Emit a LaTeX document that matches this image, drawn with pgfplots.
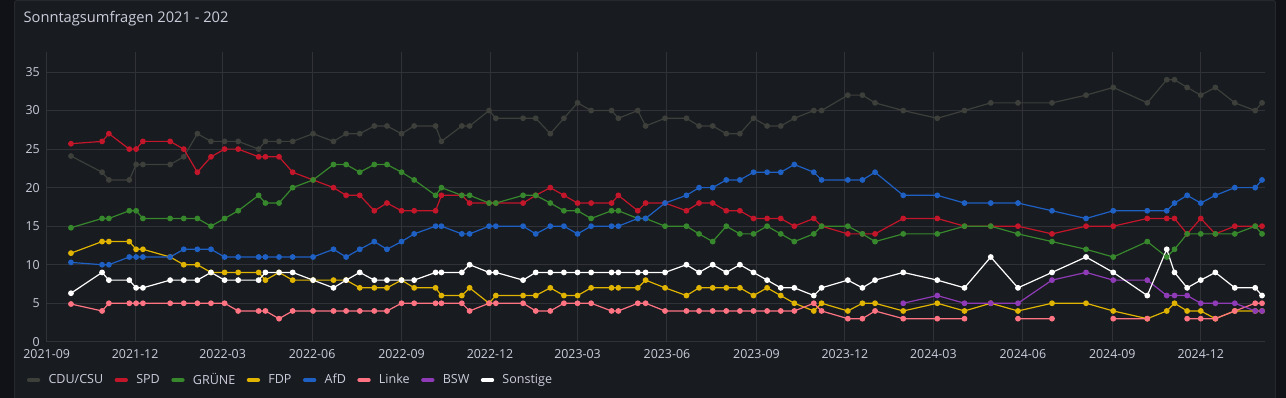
\documentclass[border=0pt]{standalone}
\usepackage{pgfplots}
\pgfplotsset{compat=1.18}
\usepackage{pgfplotstable}
\usepackage{fontspec}
\setmainfont{Open Sans}
\definecolor{bgout}{HTML}{111217}
\definecolor{bgpanel}{HTML}{181B1F}
\definecolor{panelborder}{HTML}{26282D}
\definecolor{txt}{HTML}{CCCCDC}
\definecolor{gridc}{HTML}{303237}
\definecolor{ccdu}{HTML}{3C3F3A}
\definecolor{cspd}{HTML}{C4162A}
\definecolor{cgruene}{HTML}{37872D}
\definecolor{cfdp}{HTML}{E0B400}
\definecolor{cafd}{HTML}{1F60C4}
\definecolor{clinke}{HTML}{FF7383}
\definecolor{cbsw}{HTML}{8F3BB8}
\definecolor{csonst}{HTML}{FFFFFF}

\pgfplotstableread{
d CDU SPD GRUENE FDP AfD Linke BSW Sonst
25 24.1 25.7 14.8 11.5 10.3 4.9 nan 6.3
57 22 26 16 13 10 4 nan 9
64 21 27 16 13 10 5 nan 8
85 21 25 17 13 11 5 nan 8
92 23 25 17 12 11 5 nan 7
99 23 26 16 12 11 5 nan 7
127 23 26 16 11 11 5 nan 8
141 24 25 16 10 12 5 nan 8
155 27 22 16 10 12 5 nan 8
169 26 24 15 9 12 5 nan 9
183 26 25 16 9 11 5 nan 8
197 26 25 17 9 11 4 nan 8
218 25 24 19 9 11 4 nan 8
225 26 24 18 8 11 4 nan 9
239 26 24 18 9 11 3 nan 9
253 26 22 20 8 11 4 nan 9
274 27 21 21 8 11 4 nan 8
295 26 20 23 8 12 4 nan 7
308 27 19 23 8 11 4 nan 8
322 27 19 22 7 12 4 nan 9
337 28 17 23 7 13 4 nan 8
350 28 18 23 7 12 4 nan 8
365 27 17 22 8 13 5 nan 8
378 28 17 21 7 14 5 nan 8
400 28 17 19 7 15 5 nan 9
406 26 19 20 6 15 5 nan 9
427 28 19 19 6 14 5 nan 9
435 28 18 19 7 14 4 nan 10
455 30 18 18 5 15 5 nan 9
462 29 18 18 6 15 5 nan 9
490 29 18 19 6 15 5 nan 8
503 29 19 19 6 14 4 nan 9
518 27 20 18 7 15 4 nan 9
532 29 19 17 6 15 5 nan 9
546 31 18 17 6 14 5 nan 9
560 30 18 16 7 15 5 nan 9
581 30 18 17 7 15 4 nan 9
588 29 19 17 7 15 4 nan 9
608 30 17 16 7 16 5 nan 9
616 28 18 16 8 16 5 nan 9
636 29 18 15 7 18 4 nan 9
658 29 17 15 6 19 4 nan 10
671 28 18 14 7 20 4 nan 9
685 28 18 13 7 20 4 nan 10
699 27 17 15 7 21 4 nan 9
713 27 17 14 7 21 4 nan 10
727 29 16 14 6 22 4 nan 9
741 28 16 15 7 22 4 nan 8
755 28 16 14 6 22 4 nan 7
769 29 15 13 5 23 4 nan 7
789 30 16 14 4 22 5 nan 6
797 30 15 15 5 21 4 nan 7
824 32 14 15 4 21 3 nan 8
839 32 14 14 5 21 3 nan 7
852 31 14 13 5 22 4 nan 8
881 30 16 14 4 19 3 5 9
916 29 16 14 5 19 3 6 8
944 30 15 15 4 18 3 5 7
971 31 15 15 5 18 nan 5 11
999 31 15 14 4 18 3 5 7
1034 31 14 13 5 17 3 8 9
1069 32 15 12 5 16 nan 9 11
1097 33 15 11 4 17 3 8 9
1132 31 16 13 3 17 3 8 6
1152 34 16 11 4 17 nan 6 12
1160 34 16 12 5 18 nan 6 9
1173 33 14 14 4 19 3 6 7
1187 32 16 14 4 18 3 5 8
1202 33 14 14 3 19 3 5 9
1222 31 15 14 4 20 4 5 7
1243 30 15 15 4 20 5 4 7
1250 31 15 14 4 21 5 4 6
}\polls

\begin{document}
\begin{tikzpicture}[x=1pt,y=1pt]
\useasboundingbox (0,0) rectangle (964.5,298.5);
\fill[bgout] (0,0) rectangle (964.5,298.5);
\filldraw[fill=bgpanel, draw=panelborder, line width=0.75pt, rounded corners=1.5pt] (10.9,-5) rectangle (956.6,298.0);
\node[anchor=west, text=txt, font=\fontsize{11}{12}\selectfont, inner sep=0pt] at (17.5,284.6) {Sonntagsumfragen 2021 - 202};
\begin{axis}[
  at={(35.0pt,42.15pt)}, anchor=south west,
  scale only axis, width=913.7pt, height=217.35pt,
  xmin=0, xmax=1253, ymin=0, ymax=37.6,
  xtick={0,91,181,273,365,456,546,638,730,821,912,1004,1096,1187},
  xticklabels={2021-09,2021-12,2022-03,2022-06,2022-09,2022-12,2023-03,2023-06,2023-09,2023-12,2024-03,2024-06,2024-09,2024-12},
  ytick={0,5,...,35},
  grid=major,
  major grid style={draw=gridc, line width=0.75pt},
  axis line style={draw=none},
  major tick length=0pt,
  /pgf/number format/assume math mode=true,
  tick label style={text=txt, font=\fontsize{9.3}{10}\selectfont, inner sep=0pt},
  yticklabel style={xshift=-5pt},
  xticklabel style={yshift=-5.5pt},
  unbounded coords=jump,
  clip=false,
  every axis plot/.append style={line width=0.9pt, mark=*, mark size=1.7pt, mark options={solid}},
  legend columns=8,
  legend style={at={(axis description cs:-0.0162,-0.132)}, anchor=west, draw=none, fill=none,
    text=txt, font=\fontsize{9.4}{10}\selectfont, inner sep=0pt, outer sep=0pt,
    nodes={inner sep=0pt},
    /tikz/every odd column/.append style={column sep=6.2pt},
    /tikz/every even column/.append style={column sep=8.6pt}},
  legend image code/.code={\draw[#1, line width=3pt, line cap=round, mark=none] (0pt,0pt) -- (7pt,0pt);},
]
\addplot[color=ccdu] table[x=d, y=CDU] {\polls};
\addlegendentry{CDU/CSU}
\addplot[color=cspd] table[x=d, y=SPD] {\polls};
\addlegendentry{SPD}
\addplot[color=cgruene] table[x=d, y=GRUENE] {\polls};
\addlegendentry{GRÜNE}
\addplot[color=cfdp] table[x=d, y=FDP] {\polls};
\addlegendentry{FDP}
\addplot[color=cafd] table[x=d, y=AfD] {\polls};
\addlegendentry{AfD}
\addplot[color=clinke] table[x=d, y=Linke] {\polls};
\addlegendentry{Linke}
\addplot[color=cbsw] table[x=d, y=BSW] {\polls};
\addlegendentry{BSW}
\addplot[color=csonst] table[x=d, y=Sonst] {\polls};
\addlegendentry{Sonstige}
\end{axis}
\end{tikzpicture}
\end{document}
